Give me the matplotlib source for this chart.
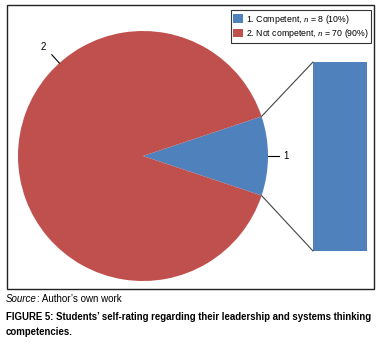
import numpy as np
import matplotlib
matplotlib.use("Agg")
import matplotlib.pyplot as plt
from matplotlib.patches import ConnectionPatch, Rectangle

# data
labels = ["1", "2"]
legend_labels = [r"1. Competent, $n$ = 8 (10%)", r"2. Not competent, $n$ = 70 (90%)"]
counts = [8, 70]
colors = ["#4F81BD", "#C0504D"]

W, H = 379, 343
plt.rcParams["font.family"] = ["Liberation Sans Narrow", "Liberation Sans", "DejaVu Sans"]
plt.rcParams["mathtext.fontset"] = "custom"
plt.rcParams["mathtext.it"] = "Liberation Serif:italic"

fig = plt.figure(figsize=(W / 100, H / 100), dpi=100)


def px_box(x0, y0, x1, y1):
    # pixel box (top-left origin) -> figure fraction rect
    return [x0 / W, 1 - y1 / H, (x1 - x0) / W, (y1 - y0) / H]


# frame around the chart
fig.patches.append(Rectangle((7 / W, 1 - 289 / H), 367 / W, 284 / H,
                             transform=fig.transFigure, fill=False,
                             edgecolor="#222222", linewidth=1.0))

# pie
ax = fig.add_axes(px_box(18, 31, 268, 281))
half = 360 * counts[0] / sum(counts) / 2
wedges, _ = ax.pie(counts, colors=colors, startangle=-half, counterclock=True,
                   radius=1.0, wedgeprops=dict(linewidth=0))
ax.set_xlim(-1, 1)
ax.set_ylim(-1, 1)
ax.set_aspect("equal")
ax.axis("off")

# data labels with leader lines
lab_angles = [0, 132]
for lab, ang in zip(labels, lab_angles):
    a = np.deg2rad(ang)
    r0, r1, rt = 1.0, 1.09, 1.16
    if ang == 0:
        ax.plot([r0, r1], [0, 0], color="black", lw=0.8, clip_on=False)
        ax.text(1.12, 0, lab, ha="left", va="center", fontsize=7, clip_on=False)
    else:
        ax.plot([r0 * np.cos(a), r1 * np.cos(a)], [r0 * np.sin(a), r1 * np.sin(a)],
                color="black", lw=0.8, clip_on=False)
        ax.text(rt * np.cos(a) - 0.02, rt * np.sin(a) + 0.01, lab, ha="center",
                va="center", fontsize=7, clip_on=False)

# bar of the small slice
ax2 = fig.add_axes(px_box(313, 62, 367, 251))
ax2.bar([0], [counts[0]], width=1.0, color=colors[0])
ax2.set_xlim(-0.5, 0.5)
ax2.set_ylim(0, counts[0])
ax2.axis("off")

# connector lines
for sgn, yb in [(1, counts[0]), (-1, 0)]:
    a = np.deg2rad(sgn * half)
    con = ConnectionPatch(xyA=(np.cos(a), np.sin(a)), coordsA=ax.transData,
                          xyB=(-0.5, yb), coordsB=ax2.transData,
                          color="#444444", lw=0.8)
    fig.add_artist(con)

# legend
leg = fig.legend(wedges, legend_labels, loc="upper right",
                 bbox_to_anchor=(371 / W, 1 - 10 / H), fontsize=6.3,
                 frameon=True, fancybox=False, handlelength=1.1, handleheight=1.1,
                 handletextpad=0.3, borderpad=0.3, labelspacing=0.15,
                 borderaxespad=0)
leg.get_frame().set_edgecolor("black")
leg.get_frame().set_linewidth(0.8)

# source and caption
src = fig.text(6 / W, 1 - 299 / H, "Source", fontsize=7, style="italic", va="center")
fig.canvas.draw()
r = fig.canvas.get_renderer()
x_end = src.get_window_extent(r).x1
fig.text(x_end / W, 1 - 299 / H, ": Author\u2019s own work", fontsize=7, va="center")

cap1 = fig.text(6 / W, 1 - 317 / H,
                "FIGURE 5: Students\u2019 self-rating regarding their leadership and systems thinking",
                fontsize=7.5, fontweight="bold", va="center")
cap2 = fig.text(6 / W, 1 - 332 / H, "competencies.", fontsize=7.5, fontweight="bold", va="center")
w = cap1.get_window_extent(r).width
fs = 7.5 * 367 / w
cap1.set_fontsize(fs)
cap2.set_fontsize(fs)

fig.savefig("out.png", dpi=100)
